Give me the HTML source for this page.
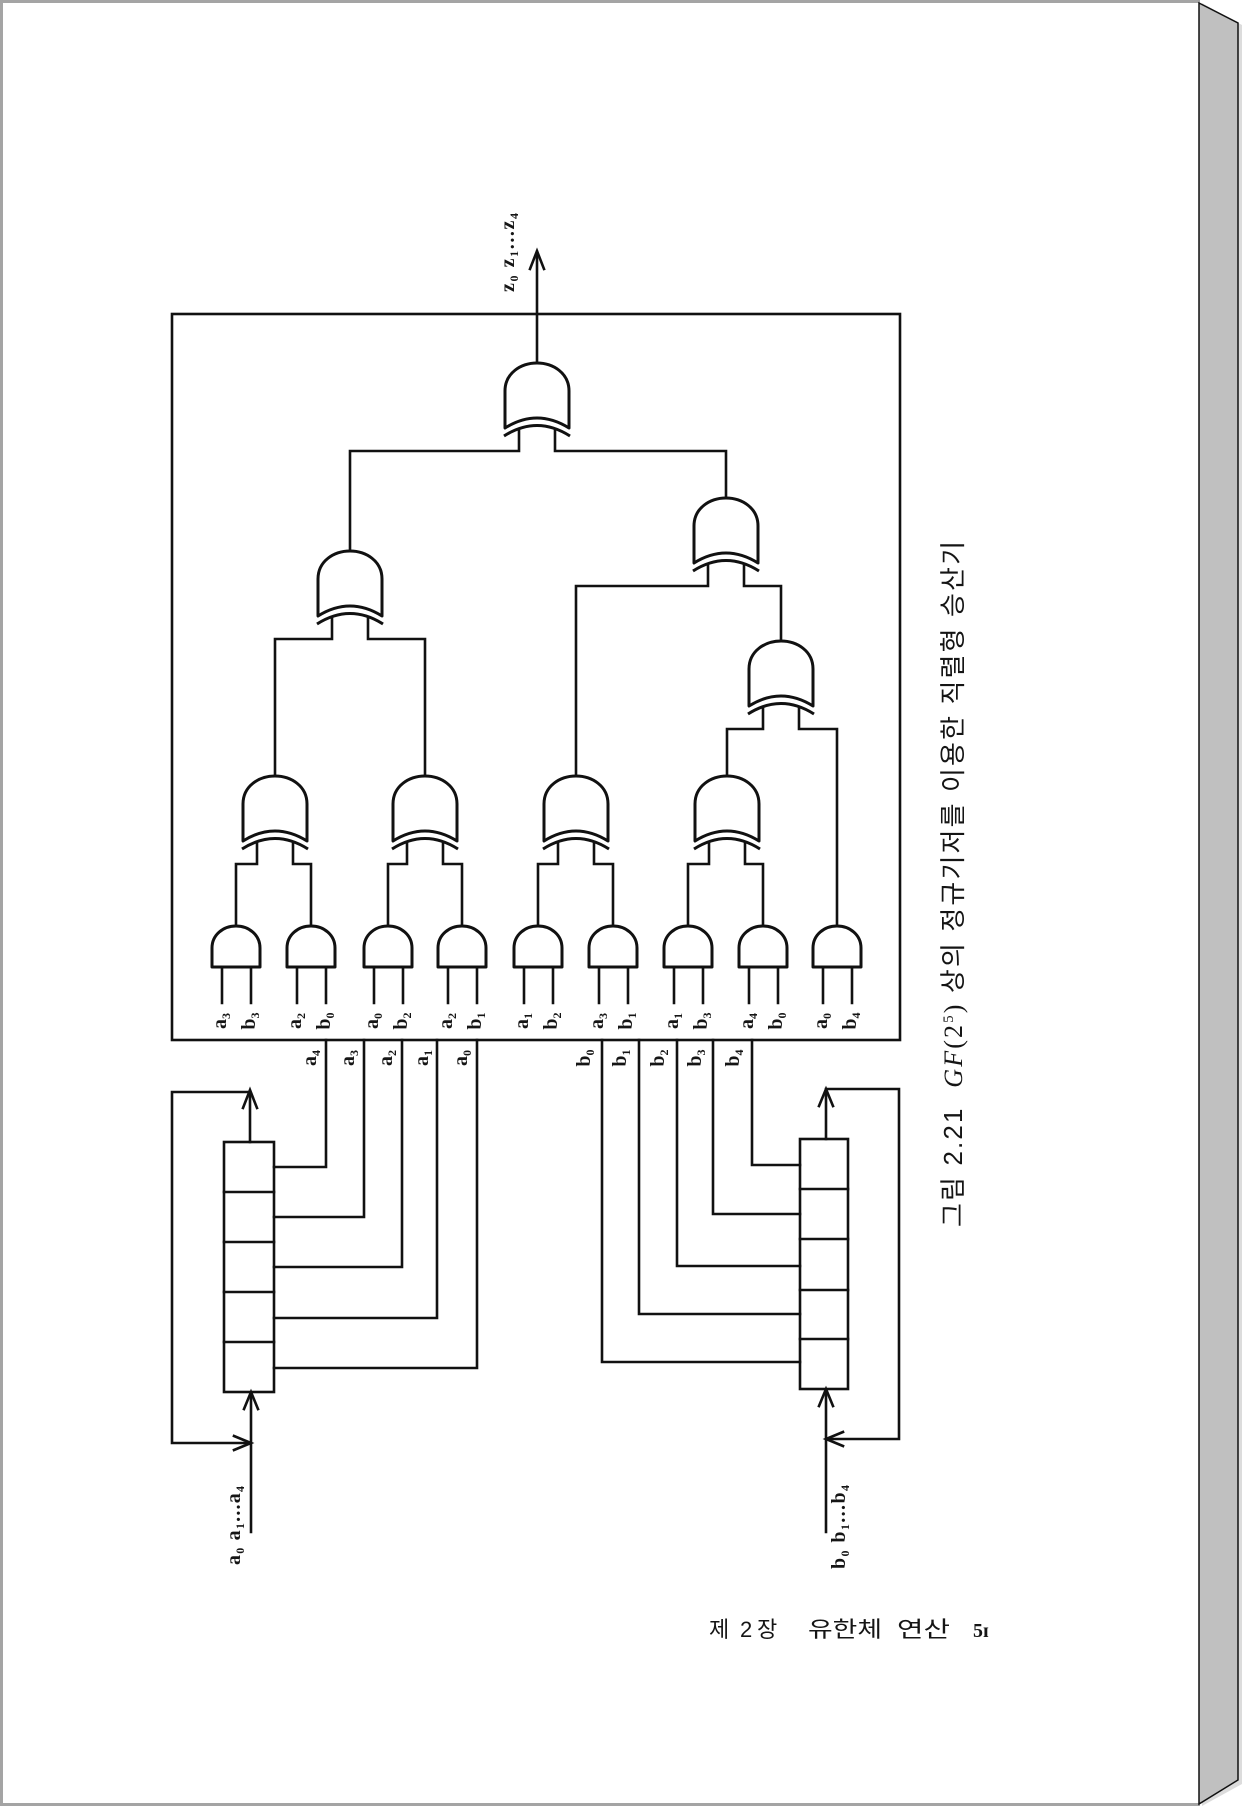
<!DOCTYPE html>
<html>
<head>
<meta charset="utf-8">
<style>
  html, body { margin: 0; padding: 0; background: #ffffff; }
  svg { display: block; }
  .w { fill: none; stroke: #111; stroke-width: 2.6; stroke-linecap: square; stroke-linejoin: miter; }
  .g { fill: #fff; stroke: #111; stroke-width: 3; stroke-linejoin: round; }
  .c { fill: none; stroke: #111; stroke-width: 3; }
  .lbl { font-family: "Liberation Serif", "DejaVu Serif", serif; font-size: 20px; font-weight: bold; fill: #151515; }
  .cap { font-family: "Liberation Sans", "Noto Sans CJK KR", sans-serif; font-size: 26px; fill: #151515; white-space: pre; }
  .ft { font-family: "Liberation Sans", "Noto Sans CJK KR", sans-serif; font-size: 22px; fill: #151515; }
</style>
</head>
<body>
<svg width="1249" height="1806" viewBox="0 0 1249 1806" xmlns="http://www.w3.org/2000/svg">
  <!-- page background & frame -->
  <rect x="0" y="0" width="1249" height="1806" fill="#ffffff"/>
  <rect x="0" y="0" width="1200" height="3" fill="#a4a4a4"/>
  <rect x="0" y="0" width="3" height="1806" fill="#a4a4a4"/>
  <rect x="0" y="1803" width="1200" height="3" fill="#a4a4a4"/>
  <!-- right 3D edge -->
  <polygon points="1202,3 1242,25 1242,1784 1202,1806" fill="#dcdcdc"/>
  <polygon points="1199,3 1238,23 1238,1780 1199,1804" fill="#c0c0c0" stroke="#111" stroke-width="1.5"/>

  <!-- main box -->
  <rect x="172" y="314" width="728" height="726" class="w"/>

  <!-- output arrow -->
  <path class="w" d="M537,363 V252"/>
  <path class="w" d="M530,269 L537,251 L544,269" stroke-linecap="round"/>
  <text class="lbl" transform="translate(509,292) rotate(-90)" dy="5" textLength="79" lengthAdjust="spacing">z<tspan font-size="12" dy="4">0</tspan><tspan dy="-4"> z</tspan><tspan font-size="12" dy="4">1</tspan><tspan dy="-4">...z</tspan><tspan font-size="12" dy="4">4</tspan></text>

  <!-- connectors inside the tree -->
  <g class="w">
    <path d="M350,551 V451 H519 V429"/>
    <path d="M726,498 V451 H555 V429"/>
    <path d="M275,776 V639 H332 V617"/>
    <path d="M425,776 V639 H368 V617"/>
    <path d="M576,776 V586 H708 V564"/>
    <path d="M781,641 V586 H744 V564"/>
    <path d="M727,776 V729 H763 V707"/>
    <path d="M837,926 V729 H799 V707"/>
    <path d="M236,926 V864 H257 V842"/>
    <path d="M311,926 V864 H293 V842"/>
    <path d="M388,926 V864 H407 V842"/>
    <path d="M462,926 V864 H443 V842"/>
    <path d="M538,926 V864 H558 V842"/>
    <path d="M613,926 V864 H594 V842"/>
    <path d="M688,926 V864 H709 V842"/>
    <path d="M763,926 V864 H745 V842"/>
  </g>

  <!-- XOR gates -->
  <g transform="translate(537,363)"><path class="g" d="M-32,65 L-32,28 C-32,10 -16,0 0,0 C16,0 32,10 32,28 L32,65 Q0,45 -32,65 Z"/><path class="c" d="M-33,73 Q0,52 33,73"/></g>
  <g transform="translate(350,551)"><path class="g" d="M-32,65 L-32,28 C-32,10 -16,0 0,0 C16,0 32,10 32,28 L32,65 Q0,45 -32,65 Z"/><path class="c" d="M-33,73 Q0,52 33,73"/></g>
  <g transform="translate(726,498)"><path class="g" d="M-32,65 L-32,28 C-32,10 -16,0 0,0 C16,0 32,10 32,28 L32,65 Q0,45 -32,65 Z"/><path class="c" d="M-33,73 Q0,52 33,73"/></g>
  <g transform="translate(781,641)"><path class="g" d="M-32,65 L-32,28 C-32,10 -16,0 0,0 C16,0 32,10 32,28 L32,65 Q0,45 -32,65 Z"/><path class="c" d="M-33,73 Q0,52 33,73"/></g>
  <g transform="translate(275,776)"><path class="g" d="M-32,65 L-32,28 C-32,10 -16,0 0,0 C16,0 32,10 32,28 L32,65 Q0,45 -32,65 Z"/><path class="c" d="M-33,73 Q0,52 33,73"/></g>
  <g transform="translate(425,776)"><path class="g" d="M-32,65 L-32,28 C-32,10 -16,0 0,0 C16,0 32,10 32,28 L32,65 Q0,45 -32,65 Z"/><path class="c" d="M-33,73 Q0,52 33,73"/></g>
  <g transform="translate(576,776)"><path class="g" d="M-32,65 L-32,28 C-32,10 -16,0 0,0 C16,0 32,10 32,28 L32,65 Q0,45 -32,65 Z"/><path class="c" d="M-33,73 Q0,52 33,73"/></g>
  <g transform="translate(727,776)"><path class="g" d="M-32,65 L-32,28 C-32,10 -16,0 0,0 C16,0 32,10 32,28 L32,65 Q0,45 -32,65 Z"/><path class="c" d="M-33,73 Q0,52 33,73"/></g>

  <!-- AND gates -->
  <g transform="translate(236,926)"><path class="g" d="M-24,41 L-24,22 C-24,9 -13,0 0,0 C13,0 24,9 24,22 L24,41 Z"/><path class="w" d="M-14,41 V77 M15,41 V77"/></g>
  <g transform="translate(311,926)"><path class="g" d="M-24,41 L-24,22 C-24,9 -13,0 0,0 C13,0 24,9 24,22 L24,41 Z"/><path class="w" d="M-14,41 V77 M15,41 V77"/></g>
  <g transform="translate(388,926)"><path class="g" d="M-24,41 L-24,22 C-24,9 -13,0 0,0 C13,0 24,9 24,22 L24,41 Z"/><path class="w" d="M-14,41 V77 M15,41 V77"/></g>
  <g transform="translate(462,926)"><path class="g" d="M-24,41 L-24,22 C-24,9 -13,0 0,0 C13,0 24,9 24,22 L24,41 Z"/><path class="w" d="M-14,41 V77 M15,41 V77"/></g>
  <g transform="translate(538,926)"><path class="g" d="M-24,41 L-24,22 C-24,9 -13,0 0,0 C13,0 24,9 24,22 L24,41 Z"/><path class="w" d="M-14,41 V77 M15,41 V77"/></g>
  <g transform="translate(613,926)"><path class="g" d="M-24,41 L-24,22 C-24,9 -13,0 0,0 C13,0 24,9 24,22 L24,41 Z"/><path class="w" d="M-14,41 V77 M15,41 V77"/></g>
  <g transform="translate(688,926)"><path class="g" d="M-24,41 L-24,22 C-24,9 -13,0 0,0 C13,0 24,9 24,22 L24,41 Z"/><path class="w" d="M-14,41 V77 M15,41 V77"/></g>
  <g transform="translate(763,926)"><path class="g" d="M-24,41 L-24,22 C-24,9 -13,0 0,0 C13,0 24,9 24,22 L24,41 Z"/><path class="w" d="M-14,41 V77 M15,41 V77"/></g>
  <g transform="translate(837,926)"><path class="g" d="M-24,41 L-24,22 C-24,9 -13,0 0,0 C13,0 24,9 24,22 L24,41 Z"/><path class="w" d="M-14,41 V77 M15,41 V77"/></g>

  <!-- AND input labels -->
  <g class="lbl" text-anchor="middle">
    <text transform="translate(221,1021) rotate(-90)" dy="5">a<tspan font-size="12" dy="4">3</tspan></text>
    <text transform="translate(250,1021) rotate(-90)" dy="5">b<tspan font-size="12" dy="4">3</tspan></text>
    <text transform="translate(296,1021) rotate(-90)" dy="5">a<tspan font-size="12" dy="4">2</tspan></text>
    <text transform="translate(325,1021) rotate(-90)" dy="5">b<tspan font-size="12" dy="4">0</tspan></text>
    <text transform="translate(373,1021) rotate(-90)" dy="5">a<tspan font-size="12" dy="4">0</tspan></text>
    <text transform="translate(402,1021) rotate(-90)" dy="5">b<tspan font-size="12" dy="4">2</tspan></text>
    <text transform="translate(447,1021) rotate(-90)" dy="5">a<tspan font-size="12" dy="4">2</tspan></text>
    <text transform="translate(476,1021) rotate(-90)" dy="5">b<tspan font-size="12" dy="4">1</tspan></text>
    <text transform="translate(523,1021) rotate(-90)" dy="5">a<tspan font-size="12" dy="4">1</tspan></text>
    <text transform="translate(552,1021) rotate(-90)" dy="5">b<tspan font-size="12" dy="4">2</tspan></text>
    <text transform="translate(598,1021) rotate(-90)" dy="5">a<tspan font-size="12" dy="4">3</tspan></text>
    <text transform="translate(627,1021) rotate(-90)" dy="5">b<tspan font-size="12" dy="4">1</tspan></text>
    <text transform="translate(673,1021) rotate(-90)" dy="5">a<tspan font-size="12" dy="4">1</tspan></text>
    <text transform="translate(702,1021) rotate(-90)" dy="5">b<tspan font-size="12" dy="4">3</tspan></text>
    <text transform="translate(748,1021) rotate(-90)" dy="5">a<tspan font-size="12" dy="4">4</tspan></text>
    <text transform="translate(777,1021) rotate(-90)" dy="5">b<tspan font-size="12" dy="4">0</tspan></text>
    <text transform="translate(822,1021) rotate(-90)" dy="5">a<tspan font-size="12" dy="4">0</tspan></text>
    <text transform="translate(851,1021) rotate(-90)" dy="5">b<tspan font-size="12" dy="4">4</tspan></text>
  </g>

  <!-- a-wires -->
  <g class="w">
    <path d="M326,1040 V1167 H274"/>
    <path d="M364,1040 V1217 H274"/>
    <path d="M402,1040 V1267 H274"/>
    <path d="M437,1040 V1318 H274"/>
    <path d="M477,1040 V1368 H274"/>
    <rect x="224" y="1142" width="50" height="250"/>
    <path d="M224,1192 H274 M224,1242 H274 M224,1292 H274 M224,1342 H274"/>
    <path d="M250,1142 V1092"/>
    <path d="M250,1092 H172 V1443 H250"/>
    <path d="M251,1532 V1393"/>
  </g>
  <g class="w" stroke-linecap="round">
    <path d="M243,1108 L250,1090 L257,1108"/>
    <path d="M234,1436 L251,1443 L234,1450"/>
    <path d="M244,1409 L251,1392 L258,1409"/>
  </g>

  <!-- b-wires -->
  <g class="w">
    <path d="M752,1040 V1165 H800"/>
    <path d="M713,1040 V1214 H800"/>
    <path d="M677,1040 V1266 H800"/>
    <path d="M639,1040 V1314 H800"/>
    <path d="M602,1040 V1362 H800"/>
    <rect x="800" y="1139" width="48" height="250"/>
    <path d="M800,1189 H848 M800,1239 H848 M800,1290 H848 M800,1339 H848"/>
    <path d="M826,1139 V1089 H899 V1439 H827"/>
    <path d="M826,1532 V1390"/>
  </g>
  <g class="w" stroke-linecap="round">
    <path d="M819,1106 L826,1089 L833,1106"/>
    <path d="M843,1432 L826,1439 L843,1446"/>
    <path d="M819,1406 L826,1389 L833,1406"/>
  </g>

  <!-- wire labels below box -->
  <g class="lbl" text-anchor="middle">
    <text transform="translate(311,1058) rotate(-90)" dy="5">a<tspan font-size="12" dy="4">4</tspan></text>
    <text transform="translate(349,1058) rotate(-90)" dy="5">a<tspan font-size="12" dy="4">3</tspan></text>
    <text transform="translate(387,1058) rotate(-90)" dy="5">a<tspan font-size="12" dy="4">2</tspan></text>
    <text transform="translate(423,1058) rotate(-90)" dy="5">a<tspan font-size="12" dy="4">1</tspan></text>
    <text transform="translate(462,1058) rotate(-90)" dy="5">a<tspan font-size="12" dy="4">0</tspan></text>
    <text transform="translate(585,1058) rotate(-90)" dy="5">b<tspan font-size="12" dy="4">0</tspan></text>
    <text transform="translate(621,1058) rotate(-90)" dy="5">b<tspan font-size="12" dy="4">1</tspan></text>
    <text transform="translate(659,1058) rotate(-90)" dy="5">b<tspan font-size="12" dy="4">2</tspan></text>
    <text transform="translate(696,1058) rotate(-90)" dy="5">b<tspan font-size="12" dy="4">3</tspan></text>
    <text transform="translate(734,1058) rotate(-90)" dy="5">b<tspan font-size="12" dy="4">4</tspan></text>
  </g>

  <!-- input labels -->
  <text class="lbl" transform="translate(235,1565) rotate(-90)" dy="5" textLength="79" lengthAdjust="spacing">a<tspan font-size="12" dy="4">0</tspan><tspan dy="-4"> a</tspan><tspan font-size="12" dy="4">1</tspan><tspan dy="-4">...a</tspan><tspan font-size="12" dy="4">4</tspan></text>
  <text class="lbl" transform="translate(840,1569) rotate(-90)" dy="5" textLength="84" lengthAdjust="spacing">b<tspan font-size="12" dy="4">0</tspan><tspan dy="-4"> b</tspan><tspan font-size="12" dy="4">1</tspan><tspan dy="-4">...b</tspan><tspan font-size="12" dy="4">4</tspan></text>

  <!-- caption (rotated) -->
  <text class="cap" transform="translate(953,1227) rotate(-90)" dy="9" textLength="686" lengthAdjust="spacing">그림 2.21  <tspan font-family="Liberation Serif, serif" font-style="italic">GF</tspan><tspan font-family="Liberation Serif, serif">(2</tspan><tspan font-family="Liberation Serif, serif" font-size="15" dy="-9">5</tspan><tspan font-family="Liberation Serif, serif" dy="9">)</tspan> 상의 정규기저를 이용한 직렬형 승산기</text>

  <!-- footer -->
  <g class="ft">
    <text x="709" y="1637">제</text>
    <text x="740" y="1637" font-family="Liberation Sans, sans-serif">2</text>
    <text x="757" y="1637">장</text>
    <text x="808" y="1637" textLength="74" lengthAdjust="spacingAndGlyphs">유한체</text>
    <text x="897" y="1637" textLength="53" lengthAdjust="spacingAndGlyphs">연산</text>
    <text x="973" y="1637" font-family="Liberation Serif, serif" font-weight="bold" font-size="20">5ɪ</text>
  </g>
</svg>
</body>
</html>
